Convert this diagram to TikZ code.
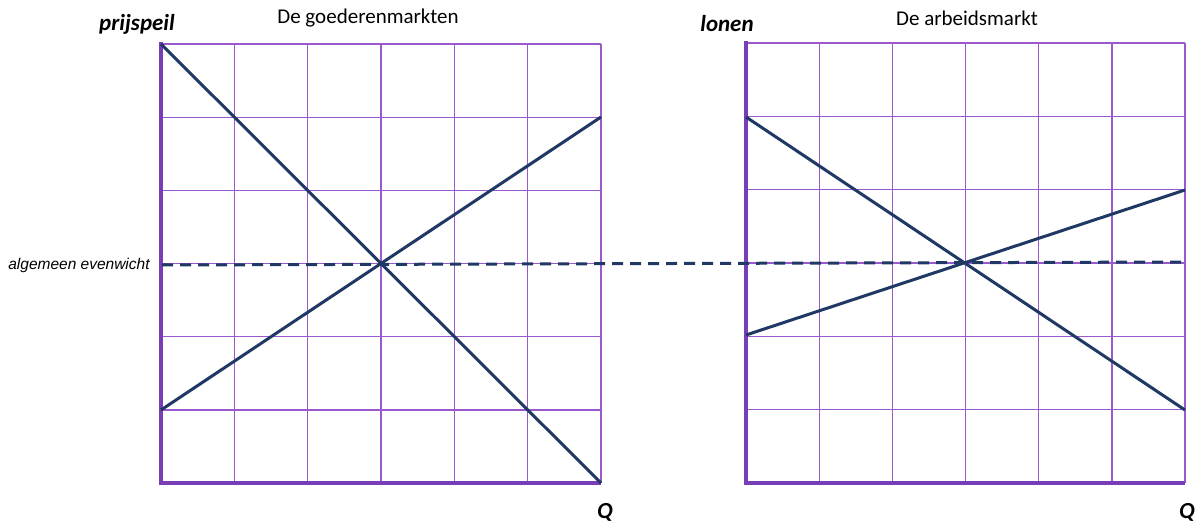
\documentclass[tikz,border=0pt]{standalone}
\usepackage{fontspec}
\setmainfont{Carlito}
\newfontfamily\arialf{Liberation Sans}
\definecolor{gridc}{HTML}{9B59D0}
\definecolor{axisc}{HTML}{7A3DB8}
\definecolor{navy}{HTML}{203864}
\tikzset{
  gridline/.style={draw=gridc, line width=1.3pt},
  axisline/.style={draw=axisc, line width=3.4pt},
  curve/.style={draw=navy, line width=3pt},
  eqline/.style={draw=navy, line width=3pt, dash pattern=on 11pt off 7pt},
  axlabel/.style={font=\fontsize{23}{26}\selectfont\bfseries\itshape, inner sep=0pt},
  title/.style={font=\fontsize{21}{24}\selectfont, inner sep=0pt},
}
\begin{document}
\begin{tikzpicture}[x=1pt,y=-1pt]
\useasboundingbox (0,0) rectangle (1201,524);
% left grid
\foreach \i in {0,...,6} {
  \draw[gridline] ({161+\i*73.33},44) -- ({161+\i*73.33},483);
  \draw[gridline] (161,{44+\i*73.17}) -- (601,{44+\i*73.17});
}
% right grid
\foreach \i in {0,...,6} {
  \draw[gridline] ({746+\i*73.17},43) -- ({746+\i*73.17},483);
  \draw[gridline] (746,{43+\i*73.33}) -- (1185,{43+\i*73.33});
}
% axes
\coordinate (LO) at (161,483);
\coordinate (LT) at (161,42);
\coordinate (LR) at (601,483);
\coordinate (RO) at (746,483);
\coordinate (RT) at (746,41);
\coordinate (RR) at (1185,483);
\draw[axisline] (LT) -- (LO) -- (LR);
\draw[axisline] (RT) -- (RO) -- (RR);
% curves left
\coordinate (ld1) at (161,44);
\coordinate (ld2) at (601,483);
\coordinate (ls1) at (161,410);
\coordinate (ls2) at (601,117);
\draw[curve] (ld1) -- (ld2);
\draw[curve] (ls1) -- (ls2);
% curves right
\coordinate (rd1) at (746,117);
\coordinate (rd2) at (1185,410);
\coordinate (rs1) at (746,335);
\coordinate (rs2) at (1185,190);
\draw[curve] (rd1) -- (rd2);
\draw[curve] (rs1) -- (rs2);
% equilibrium dashed line
\coordinate (e1) at (162,265);
\coordinate (e2) at (1185,262);
\draw[eqline] (e1) -- (e2);
% labels
\node[axlabel] (py) at (137,24) {prijspeil};
\node[title] (t1) at (368,18) {De goederenmarkten};
\node[axlabel] (ly) at (727,24) {lonen};
\node[title] (t2) at (967,18) {De arbeidsmarkt};
\node[axlabel] (q1) at (605,512) {Q};
\node[axlabel] (q2) at (1187,512) {Q};
\node[font=\arialf\itshape\fontsize{15.5}{17}\selectfont, inner sep=0pt] (ae) at (79,265) {algemeen evenwicht};
\end{tikzpicture}
\end{document}
